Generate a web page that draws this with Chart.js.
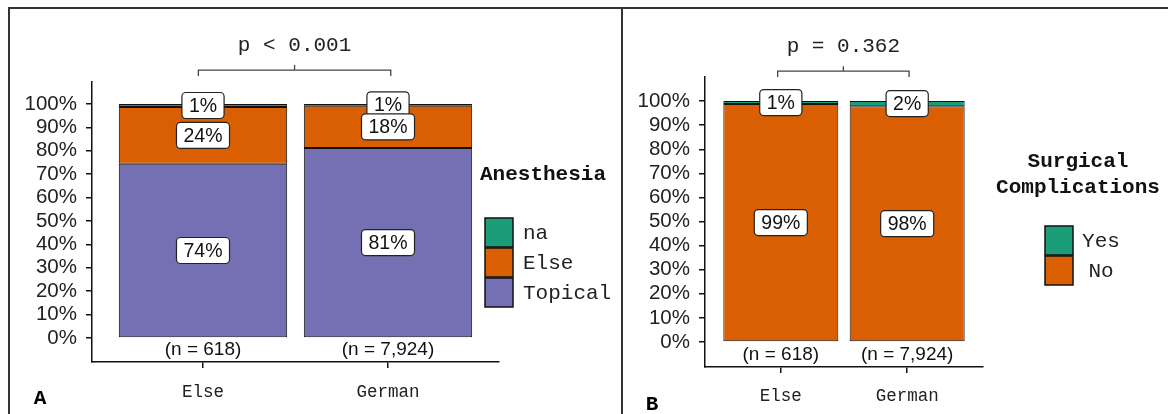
<!DOCTYPE html>
<html>
<head>
<meta charset="utf-8">
<script src="https://cdn.jsdelivr.net/npm/chart.js@4"></script>
<style>
  html, body { margin: 0; padding: 0; background: #fff; }
  body { width: 1168px; height: 414px; position: relative; overflow: hidden; }
  .frame { position: absolute; background: #333; }
  .wrap { position: absolute; top: 9px; height: 405px; }
  #wrapA { left: 10px; width: 611px; }
  #wrapB { left: 624px; width: 544px; }
</style>
</head>
<body>
<div class="frame" style="left:8px;top:7px;width:1160px;height:2px"></div>
<div class="frame" style="left:8px;top:7px;width:2px;height:407px"></div>
<div class="frame" style="left:621px;top:7px;width:2px;height:407px"></div>
<div class="wrap" id="wrapA"><canvas id="chartA"></canvas></div>
<div class="wrap" id="wrapB"><canvas id="chartB"></canvas></div>
<script>
// =========================
// DATA
// =========================

const groups = ["Else", "German"];
const groupN = ["(n = 618)", "(n = 7,924)"];
const yTicks = [0, 10, 20, 30, 40, 50, 60, 70, 80, 90, 100];

// panel A - anesthesia (% of group)
const anesthesiaTopical = [74.4, 81.2];
const anesthesiaElse = [24.3, 18.1];
const anesthesiaNa = [1.3, 0.7];
const pAnesthesia = "p < 0.001";

// panel B - surgical complications (% of group)
const complicationsNo = [98.8, 97.9];
const complicationsYes = [1.2, 2.1];
const pComplications = "p = 0.362";

// =========================
// STYLE
// =========================

const MONO = '"Liberation Mono", "Courier New", monospace';
const SANS = '"Liberation Sans", Arial, sans-serif';
const GREEN = "#1b9e77";
const ORANGE = "#d95f02";
const PURPLE = "#7570b3";

Chart.defaults.color = "#222";
Chart.defaults.animation = false;

function toPoints(values) {
  return values.map((v, i) => ({ x: i + 1, y: v }));
}

function dataset(label, values, color) {
  return {
    label: label,
    data: toPoints(values),
    backgroundColor: color,
    borderColor: "#111",
    borderWidth: 1,
    borderSkipped: false,
    inflateAmount: 0,
    categoryPercentage: 1,
    barPercentage: 0.91,
  };
}

function labelBox(ctx, text, cx, cy) {
  ctx.font = "19.5px " + SANS;
  const w = ctx.measureText(text).width + 14;
  const h = 26;
  const r = 4;
  const x = cx - w / 2;
  const y = cy - h / 2;
  ctx.beginPath();
  ctx.moveTo(x + r, y);
  ctx.lineTo(x + w - r, y);
  ctx.arcTo(x + w, y, x + w, y + r, r);
  ctx.lineTo(x + w, y + h - r);
  ctx.arcTo(x + w, y + h, x + w - r, y + h, r);
  ctx.lineTo(x + r, y + h);
  ctx.arcTo(x, y + h, x, y + h - r, r);
  ctx.lineTo(x, y + r);
  ctx.arcTo(x, y, x + r, y, r);
  ctx.closePath();
  ctx.fillStyle = "#fff";
  ctx.fill();
  ctx.lineWidth = 1.2;
  ctx.strokeStyle = "#222";
  ctx.stroke();
  ctx.fillStyle = "#111";
  ctx.textAlign = "center";
  ctx.textBaseline = "middle";
  ctx.fillText(text, cx, cy + 1);
}

// extra drawing: segment labels, n labels, p bracket, legend, panel letter
function extrasPlugin(cfg) {
  return {
    id: "extras",
    afterDatasetsDraw(chart) {
      const ctx = chart.ctx;
      const xs = chart.scales.x;
      const ys = chart.scales.y;
      ctx.save();

      // segment labels, top segment first so lower ones sit above
      for (let d = chart.data.datasets.length - 1; d >= 0; d--) {
        const meta = chart.getDatasetMeta(d);
        meta.data.forEach((el, i) => {
          const p = el.getProps(["x", "y", "base"], true);
          const v = chart.data.datasets[d].data[i].y;
          labelBox(ctx, Math.round(v) + "%", p.x, (p.y + p.base) / 2);
        });
      }

      // n labels under the bars
      ctx.font = "19px " + SANS;
      ctx.fillStyle = "#111";
      ctx.textAlign = "center";
      ctx.textBaseline = "middle";
      groupN.forEach((t, i) => {
        ctx.fillText(t, xs.getPixelForValue(i + 1), ys.getPixelForValue(cfg.nY));
      });

      // p-value bracket
      const xl = xs.getPixelForValue(0.975);
      const xr = xs.getPixelForValue(2.015);
      const xm = (xl + xr) / 2;
      const yl = ys.getPixelForValue(cfg.bracket[0]);
      const ye = ys.getPixelForValue(cfg.bracket[1]);
      const yt = ys.getPixelForValue(cfg.bracket[2]);
      ctx.strokeStyle = "#444";
      ctx.lineWidth = 1.3;
      ctx.beginPath();
      ctx.moveTo(xl, ye);
      ctx.lineTo(xl, yl);
      ctx.lineTo(xr, yl);
      ctx.lineTo(xr, ye);
      ctx.moveTo(xm, yl);
      ctx.lineTo(xm, yt);
      ctx.stroke();
      ctx.font = "21px " + MONO;
      ctx.fillStyle = "#222";
      ctx.fillText(cfg.pText, xm, ys.getPixelForValue(cfg.bracket[3]));

      // legend
      const lg = cfg.legend;
      ctx.font = "bold 21px " + MONO;
      ctx.fillStyle = "#111";
      ctx.textAlign = lg.titleAlign;
      lg.title.forEach((line, k) => {
        ctx.fillText(line, lg.titleX, lg.titleY + k * 26);
      });
      const items = chart.data.datasets.slice().reverse();
      ctx.font = "21px " + MONO;
      items.forEach((ds, k) => {
        const top = lg.boxY + k * 30;
        ctx.fillStyle = ds.backgroundColor;
        ctx.fillRect(lg.boxX, top, 28, 29);
        ctx.strokeStyle = "#111";
        ctx.lineWidth = 1.5;
        ctx.strokeRect(lg.boxX, top, 28, 29);
        ctx.fillStyle = "#222";
        ctx.textAlign = lg.labelAlign;
        ctx.fillText(ds.label, lg.labelX, top + 15);
      });

      // panel letter
      ctx.font = "bold 21px " + MONO;
      ctx.fillStyle = "#000";
      ctx.textAlign = "center";
      ctx.fillText(cfg.letter, cfg.letterX, cfg.letterY);

      ctx.restore();
    },
  };
}

function makeChart(id, datasets, cfg) {
  return new Chart(document.getElementById(id), {
    type: "bar",
    data: { datasets: datasets },
    options: {
      responsive: true,
      maintainAspectRatio: false,
      devicePixelRatio: 1,
      layout: { padding: { left: 0, top: cfg.padTop, right: cfg.padRight, bottom: 0 } },
      plugins: { legend: { display: false }, tooltip: { enabled: false } },
      scales: {
        x: {
          type: "linear",
          min: 0.4,
          max: 2.6,
          offset: false,
          stacked: true,
          afterBuildTicks: (s) => { s.ticks = [{ value: 1 }, { value: 2 }]; },
          afterFit: (s) => { s.height = cfg.xAxisH; },
          ticks: {
            callback: (v) => groups[v - 1],
            font: { family: MONO, size: 17.5 },
            color: "#222",
            padding: cfg.xPad,
            maxRotation: 0,
            autoSkip: false,
          },
          grid: { offset: false, drawOnChartArea: false, tickLength: 6, color: "#111", lineWidth: 1.5 },
          border: { color: "#111", width: 1.5 },
        },
        y: {
          type: "linear",
          min: cfg.yMin,
          max: cfg.yMax,
          stacked: true,
          afterBuildTicks: (s) => { s.ticks = yTicks.map((v) => ({ value: v })); },
          afterFit: (s) => { s.width = cfg.yAxisW; },
          ticks: {
            callback: (v) => v + "%",
            font: { family: SANS, size: 20.5 },
            color: "#222",
            padding: 9,
          },
          grid: { drawOnChartArea: false, tickLength: 6, color: "#111", lineWidth: 1.5 },
          border: { color: "#111", width: 1.5 },
        },
      },
    },
    plugins: [extrasPlugin(cfg)],
  });
}

// =========================
// PANEL A
// =========================

makeChart(
  "chartA",
  [
    dataset("Topical", anesthesiaTopical, PURPLE),
    dataset("Else", anesthesiaElse, ORANGE),
    dataset("na", anesthesiaNa, GREEN),
  ],
  {
    padTop: 73, padRight: 122, yAxisW: 82, xAxisH: 52, xPad: 14,
    yMin: -10.3, yMax: 109.4, nY: -5,
    bracket: [114.5, 112, 116.7, 125.2], pText: pAnesthesia,
    legend: {
      title: ["Anesthesia"], titleX: 470, titleY: 166, titleAlign: "left",
      boxX: 475, boxY: 209, labelX: 513, labelAlign: "left",
    },
    letter: "A", letterX: 30, letterY: 390,
  }
);

// =========================
// PANEL B
// =========================

makeChart(
  "chartB",
  [
    dataset("No", complicationsNo, ORANGE),
    dataset("Yes", complicationsYes, GREEN),
  ],
  {
    padTop: 68, padRight: 185, yAxisW: 81, xAxisH: 47, xPad: 13,
    yMin: -10.4, yMax: 110, nY: -5.2,
    bracket: [112.4, 110, 114.5, 122.8], pText: pComplications,
    legend: {
      title: ["Surgical", "Complications"], titleX: 454, titleY: 153, titleAlign: "center",
      boxX: 421, boxY: 217, labelX: 477, labelAlign: "center",
    },
    letter: "B", letterX: 28, letterY: 396,
  }
);
</script>
</body>
</html>
